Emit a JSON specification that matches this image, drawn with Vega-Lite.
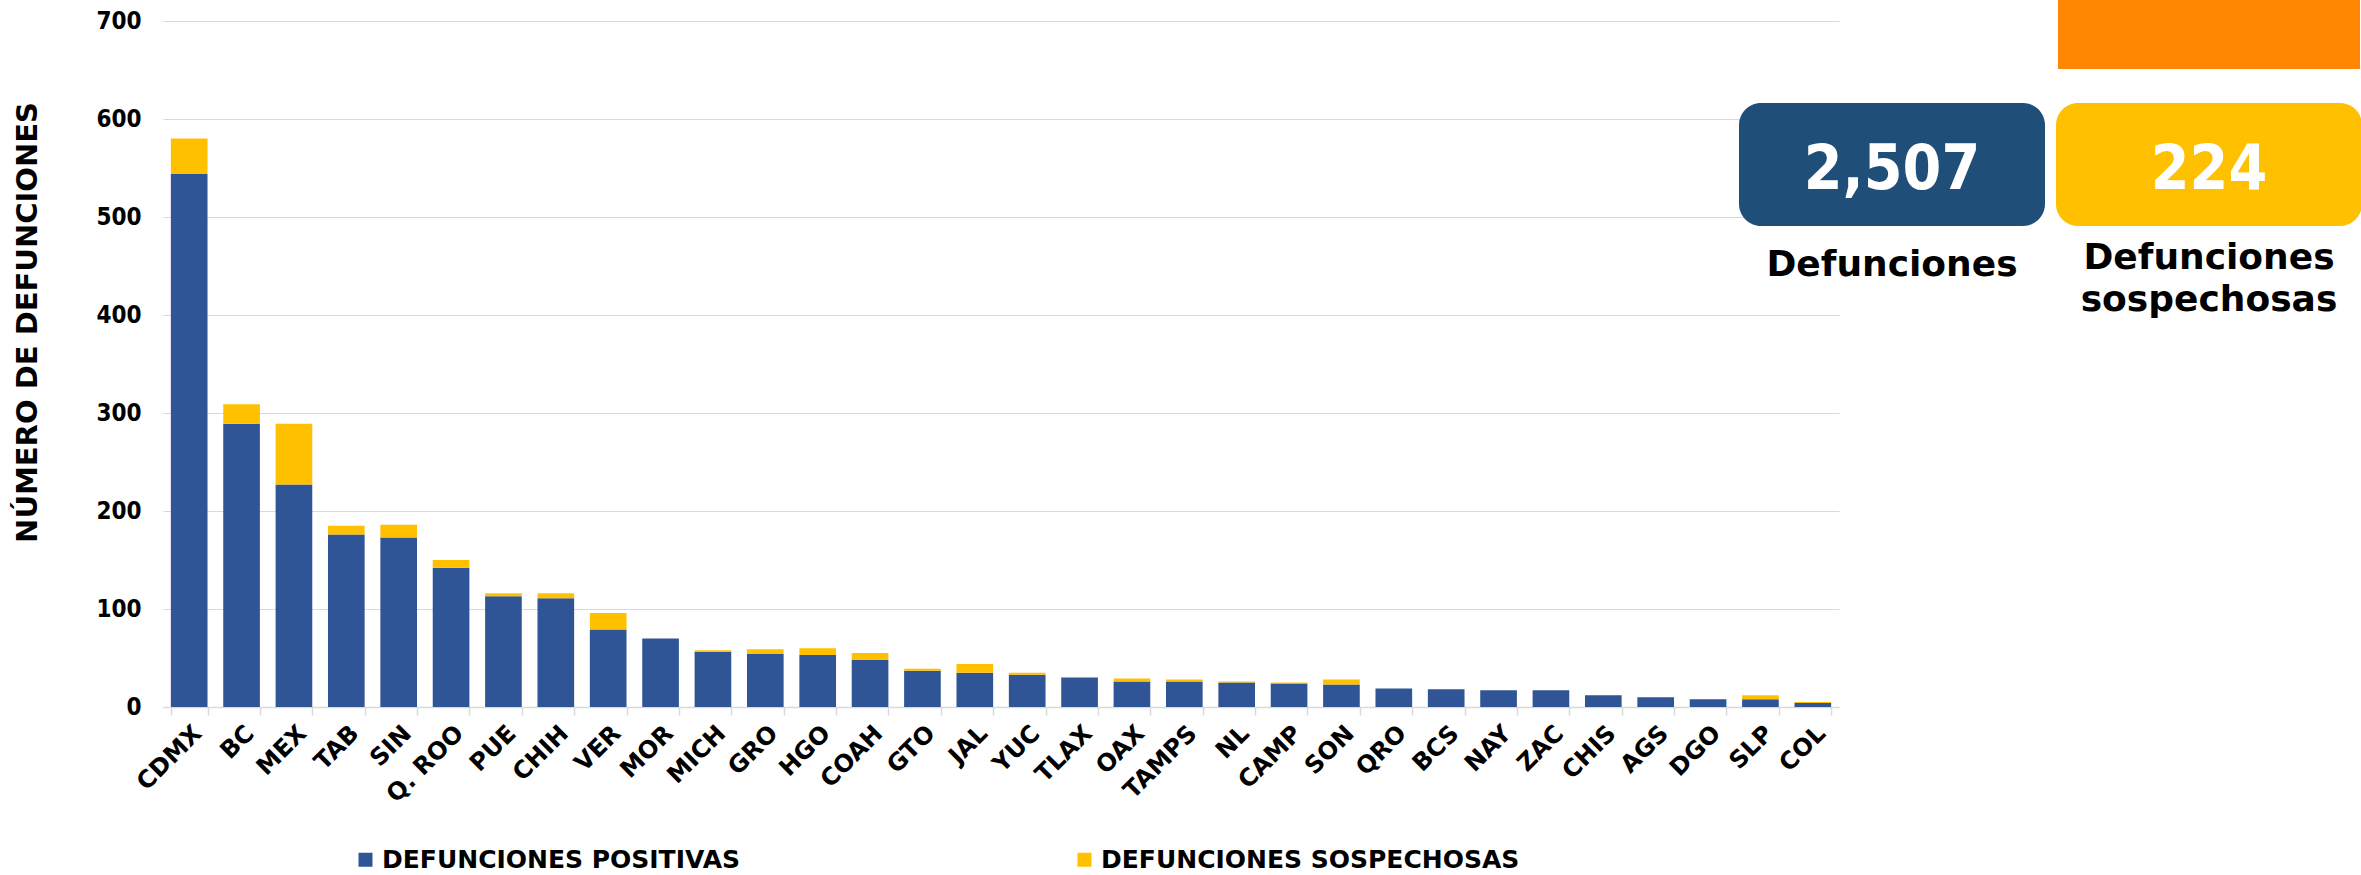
{
  "$schema": "https://vega.github.io/schema/vega-lite/v6.json",
  "background": "white",
  "padding": {"left": 13, "top": 0, "right": 0, "bottom": 0},
  "spacing": 0,
  "bounds": "flush",
  "config": {"view": {"stroke": null}, "font": "DejaVu Sans"},
  "resolve": {"scale": {"color": "independent"}, "legend": {"color": "independent"}},
  "hconcat": [
    {
      "width": 1676,
      "height": 686,
      "data": {"values": [
        {"estado": "CDMX", "tipo": "DEFUNCIONES POSITIVAS", "valor": 544},
        {"estado": "CDMX", "tipo": "DEFUNCIONES SOSPECHOSAS", "valor": 36},
        {"estado": "BC", "tipo": "DEFUNCIONES POSITIVAS", "valor": 289},
        {"estado": "BC", "tipo": "DEFUNCIONES SOSPECHOSAS", "valor": 20},
        {"estado": "MEX", "tipo": "DEFUNCIONES POSITIVAS", "valor": 227},
        {"estado": "MEX", "tipo": "DEFUNCIONES SOSPECHOSAS", "valor": 62},
        {"estado": "TAB", "tipo": "DEFUNCIONES POSITIVAS", "valor": 176},
        {"estado": "TAB", "tipo": "DEFUNCIONES SOSPECHOSAS", "valor": 9},
        {"estado": "SIN", "tipo": "DEFUNCIONES POSITIVAS", "valor": 173},
        {"estado": "SIN", "tipo": "DEFUNCIONES SOSPECHOSAS", "valor": 13},
        {"estado": "Q. ROO", "tipo": "DEFUNCIONES POSITIVAS", "valor": 142},
        {"estado": "Q. ROO", "tipo": "DEFUNCIONES SOSPECHOSAS", "valor": 8},
        {"estado": "PUE", "tipo": "DEFUNCIONES POSITIVAS", "valor": 113},
        {"estado": "PUE", "tipo": "DEFUNCIONES SOSPECHOSAS", "valor": 3},
        {"estado": "CHIH", "tipo": "DEFUNCIONES POSITIVAS", "valor": 111},
        {"estado": "CHIH", "tipo": "DEFUNCIONES SOSPECHOSAS", "valor": 5},
        {"estado": "VER", "tipo": "DEFUNCIONES POSITIVAS", "valor": 79},
        {"estado": "VER", "tipo": "DEFUNCIONES SOSPECHOSAS", "valor": 17},
        {"estado": "MOR", "tipo": "DEFUNCIONES POSITIVAS", "valor": 70},
        {"estado": "MOR", "tipo": "DEFUNCIONES SOSPECHOSAS", "valor": 0},
        {"estado": "MICH", "tipo": "DEFUNCIONES POSITIVAS", "valor": 56},
        {"estado": "MICH", "tipo": "DEFUNCIONES SOSPECHOSAS", "valor": 2},
        {"estado": "GRO", "tipo": "DEFUNCIONES POSITIVAS", "valor": 54},
        {"estado": "GRO", "tipo": "DEFUNCIONES SOSPECHOSAS", "valor": 5},
        {"estado": "HGO", "tipo": "DEFUNCIONES POSITIVAS", "valor": 53},
        {"estado": "HGO", "tipo": "DEFUNCIONES SOSPECHOSAS", "valor": 7},
        {"estado": "COAH", "tipo": "DEFUNCIONES POSITIVAS", "valor": 48},
        {"estado": "COAH", "tipo": "DEFUNCIONES SOSPECHOSAS", "valor": 7},
        {"estado": "GTO", "tipo": "DEFUNCIONES POSITIVAS", "valor": 37},
        {"estado": "GTO", "tipo": "DEFUNCIONES SOSPECHOSAS", "valor": 2},
        {"estado": "JAL", "tipo": "DEFUNCIONES POSITIVAS", "valor": 35},
        {"estado": "JAL", "tipo": "DEFUNCIONES SOSPECHOSAS", "valor": 9},
        {"estado": "YUC", "tipo": "DEFUNCIONES POSITIVAS", "valor": 33},
        {"estado": "YUC", "tipo": "DEFUNCIONES SOSPECHOSAS", "valor": 2},
        {"estado": "TLAX", "tipo": "DEFUNCIONES POSITIVAS", "valor": 30},
        {"estado": "TLAX", "tipo": "DEFUNCIONES SOSPECHOSAS", "valor": 0},
        {"estado": "OAX", "tipo": "DEFUNCIONES POSITIVAS", "valor": 26},
        {"estado": "OAX", "tipo": "DEFUNCIONES SOSPECHOSAS", "valor": 3},
        {"estado": "TAMPS", "tipo": "DEFUNCIONES POSITIVAS", "valor": 26},
        {"estado": "TAMPS", "tipo": "DEFUNCIONES SOSPECHOSAS", "valor": 2},
        {"estado": "NL", "tipo": "DEFUNCIONES POSITIVAS", "valor": 25},
        {"estado": "NL", "tipo": "DEFUNCIONES SOSPECHOSAS", "valor": 1},
        {"estado": "CAMP", "tipo": "DEFUNCIONES POSITIVAS", "valor": 24},
        {"estado": "CAMP", "tipo": "DEFUNCIONES SOSPECHOSAS", "valor": 1},
        {"estado": "SON", "tipo": "DEFUNCIONES POSITIVAS", "valor": 23},
        {"estado": "SON", "tipo": "DEFUNCIONES SOSPECHOSAS", "valor": 5},
        {"estado": "QRO", "tipo": "DEFUNCIONES POSITIVAS", "valor": 19},
        {"estado": "QRO", "tipo": "DEFUNCIONES SOSPECHOSAS", "valor": 0},
        {"estado": "BCS", "tipo": "DEFUNCIONES POSITIVAS", "valor": 18},
        {"estado": "BCS", "tipo": "DEFUNCIONES SOSPECHOSAS", "valor": 0},
        {"estado": "NAY", "tipo": "DEFUNCIONES POSITIVAS", "valor": 17},
        {"estado": "NAY", "tipo": "DEFUNCIONES SOSPECHOSAS", "valor": 0},
        {"estado": "ZAC", "tipo": "DEFUNCIONES POSITIVAS", "valor": 17},
        {"estado": "ZAC", "tipo": "DEFUNCIONES SOSPECHOSAS", "valor": 0},
        {"estado": "CHIS", "tipo": "DEFUNCIONES POSITIVAS", "valor": 12},
        {"estado": "CHIS", "tipo": "DEFUNCIONES SOSPECHOSAS", "valor": 0},
        {"estado": "AGS", "tipo": "DEFUNCIONES POSITIVAS", "valor": 10},
        {"estado": "AGS", "tipo": "DEFUNCIONES SOSPECHOSAS", "valor": 0},
        {"estado": "DGO", "tipo": "DEFUNCIONES POSITIVAS", "valor": 8},
        {"estado": "DGO", "tipo": "DEFUNCIONES SOSPECHOSAS", "valor": 0},
        {"estado": "SLP", "tipo": "DEFUNCIONES POSITIVAS", "valor": 8},
        {"estado": "SLP", "tipo": "DEFUNCIONES SOSPECHOSAS", "valor": 4},
        {"estado": "COL", "tipo": "DEFUNCIONES POSITIVAS", "valor": 4},
        {"estado": "COL", "tipo": "DEFUNCIONES SOSPECHOSAS", "valor": 1}
      ]},
      "mark": {"type": "bar"},
      "encoding": {
        "x": {
          "field": "estado", "type": "nominal", "sort": null,
          "scale": {"paddingInner": 0.3, "paddingOuter": 0.15},
          "axis": {
            "title": null, "labelAngle": -45, "labelFont": "DejaVu Sans", "labelFontSize": 24,
            "labelFontWeight": "bold", "labelColor": "#000000", "labelPadding": 6,
            "domainColor": "#D9D9D9", "domainWidth": 1.5, "tickColor": "#D9D9D9", "tickWidth": 1.5,
            "tickSize": 8, "tickBand": "extent", "grid": false
          }
        },
        "y": {
          "field": "valor", "type": "quantitative", "stack": "zero",
          "scale": {"domain": [0, 700], "nice": false},
          "axis": {
            "values": [0, 100, 200, 300, 400, 500, 600, 700],
            "title": "NÚMERO DE DEFUNCIONES", "titleFont": "DejaVu Sans", "titleFontSize": 29,
            "titleFontWeight": "bold", "titleColor": "#000000", "titlePadding": 53, "titleY": 301,
            "labelFont": "DejaVu Sans Condensed", "labelFontSize": 24, "labelFontWeight": "bold",
            "labelColor": "#000000", "labelPadding": 22, "ticks": false, "domain": false,
            "gridColor": "#D9D9D9", "gridWidth": 1.2
          }
        },
        "order": {"field": "tipo", "sort": "ascending"},
        "color": {
          "field": "tipo", "type": "nominal",
          "scale": {"domain": ["DEFUNCIONES POSITIVAS", "DEFUNCIONES SOSPECHOSAS"], "range": ["#2F5597", "#FFC000"]},
          "legend": {
            "title": null, "orient": "none", "legendX": 190, "legendY": 826,
            "direction": "horizontal", "columns": 2, "columnPadding": 332,
            "symbolType": "square", "symbolSize": 196, "symbolStrokeWidth": 0,
            "labelFont": "DejaVu Sans", "labelFontSize": 25, "labelFontWeight": "bold",
            "labelColor": "#000000", "labelOffset": 4, "labelLimit": 0
          }
        }
      }
    },
    {
      "width": 523,
      "height": 686,
      "data": {"values": [
        {"label": "Defunciones", "valor": 2507},
        {"label": "Defunciones sospechosas", "valor": 224}
      ]},
      "encoding": {
        "x": {
          "field": "label", "type": "nominal",
          "scale": {"domain": ["Defunciones", "Defunciones sospechosas"], "range": [-100, 523], "paddingInner": 0.0347, "paddingOuter": 0},
          "axis": null
        }
      },
      "layer": [
        {
          "transform": [{"filter": "datum.label === 'Defunciones sospechosas'"}],
          "mark": {"type": "rect", "color": "#FF8600", "width": {"band": 0.987}, "align": "left"},
          "encoding": {"y": {"value": -21}, "y2": {"value": 48}}
        },
        {
          "mark": {"type": "rect", "cornerRadius": 22},
          "encoding": {
            "y": {"value": 82}, "y2": {"value": 205},
            "color": {
              "field": "label", "type": "nominal",
              "scale": {"domain": ["Defunciones", "Defunciones sospechosas"], "range": ["#1F4E79", "#FFC000"]},
              "legend": null
            }
          }
        },
        {
          "mark": {"type": "text", "font": "DejaVu Sans Condensed", "fontSize": 62, "fontWeight": "bold", "color": "#FFFFFF", "baseline": "alphabetic", "align": "center"},
          "encoding": {
            "y": {"value": 168},
            "text": {"field": "valor", "type": "quantitative", "format": ","}
          }
        },
        {
          "transform": [{"filter": "datum.label === 'Defunciones'"}],
          "mark": {"type": "text", "font": "DejaVu Sans", "fontSize": 36, "fontWeight": "bold", "color": "#000000", "baseline": "alphabetic", "align": "center"},
          "encoding": {
            "y": {"value": 255},
            "text": {"field": "label", "type": "nominal"}
          }
        },
        {
          "transform": [{"filter": "datum.label === 'Defunciones sospechosas'"}],
          "mark": {"type": "text", "font": "DejaVu Sans", "fontSize": 36, "fontWeight": "bold", "color": "#000000", "baseline": "alphabetic", "align": "center", "lineBreak": " ", "lineHeight": 42},
          "encoding": {
            "y": {"value": 248},
            "text": {"field": "label", "type": "nominal"}
          }
        }
      ]
    }
  ]
}
